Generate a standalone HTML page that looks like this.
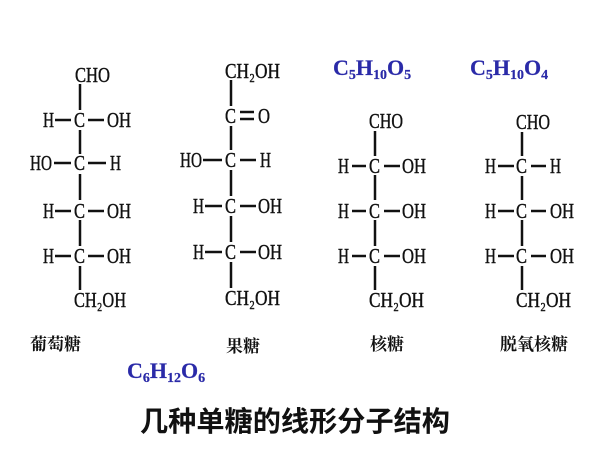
<!DOCTYPE html>
<html><head><meta charset="utf-8"><style>
html,body{margin:0;padding:0;background:#fff;width:600px;height:450px;overflow:hidden}
svg text{font-family:"Liberation Serif",serif;font-size:21px;fill:#111;stroke:#111;stroke-width:0.4}
.cn{font-family:"Liberation Serif","Noto Serif CJK SC",serif;font-size:17px;font-weight:bold;stroke-width:0}
.bl{fill:#2a2aa8;stroke:#2a2aa8;font-weight:bold;font-size:22px;stroke-width:0.2}
.sub{font-size:14px}
</style></head><body>
<svg width="600" height="450" viewBox="0 0 600 450" xmlns="http://www.w3.org/2000/svg">
<g stroke="#111" stroke-width="2.5">
<line x1="80" y1="84" x2="80" y2="110"/><line x1="80" y1="130" x2="80" y2="154"/><line x1="80" y1="174" x2="80" y2="200"/><line x1="80" y1="220" x2="80" y2="246"/><line x1="80" y1="266" x2="80" y2="290"/>
<line x1="55" y1="120" x2="71" y2="120"/><line x1="88" y1="120" x2="104" y2="120"/>
<line x1="54" y1="163" x2="71" y2="163"/><line x1="88" y1="163" x2="106" y2="163"/>
<line x1="55" y1="211" x2="71" y2="211"/><line x1="88" y1="211" x2="104" y2="211"/>
<line x1="55" y1="256" x2="71" y2="256"/><line x1="88" y1="256" x2="104" y2="256"/>
<line x1="231" y1="80" x2="231" y2="106"/><line x1="231" y1="126" x2="231" y2="150"/><line x1="231" y1="170" x2="231" y2="196"/><line x1="231" y1="216" x2="231" y2="242"/><line x1="231" y1="262" x2="231" y2="288"/>
<line x1="240" y1="112" x2="254" y2="112"/><line x1="240" y1="119" x2="254" y2="119"/>
<line x1="203" y1="160" x2="222" y2="160"/><line x1="240" y1="160" x2="256" y2="160"/>
<line x1="205" y1="206" x2="222" y2="206"/><line x1="240" y1="206" x2="256" y2="206"/>
<line x1="205" y1="252" x2="222" y2="252"/><line x1="240" y1="252" x2="256" y2="252"/>
<line x1="375" y1="131" x2="375" y2="156"/><line x1="375" y1="175" x2="375" y2="200"/><line x1="375" y1="220" x2="375" y2="246"/><line x1="375" y1="266" x2="375" y2="290"/>
<line x1="352" y1="166" x2="366" y2="166"/><line x1="384" y1="166" x2="400" y2="166"/>
<line x1="352" y1="211" x2="366" y2="211"/><line x1="384" y1="211" x2="400" y2="211"/>
<line x1="352" y1="256" x2="366" y2="256"/><line x1="384" y1="256" x2="400" y2="256"/>
<line x1="522" y1="132" x2="522" y2="156"/><line x1="522" y1="176" x2="522" y2="200"/><line x1="522" y1="220" x2="522" y2="246"/><line x1="522" y1="266" x2="522" y2="290"/>
<line x1="498" y1="166" x2="514" y2="166"/><line x1="531" y1="166" x2="546" y2="166"/>
<line x1="498" y1="211" x2="514" y2="211"/><line x1="531" y1="211" x2="546" y2="211"/>
<line x1="498" y1="256" x2="514" y2="256"/><line x1="531" y1="256" x2="546" y2="256"/>
</g>
<text x="75" y="82" textLength="35" lengthAdjust="spacingAndGlyphs">CHO</text>
<text x="43" y="127" textLength="11" lengthAdjust="spacingAndGlyphs">H</text><text x="74" y="127" textLength="11" lengthAdjust="spacingAndGlyphs">C</text><text x="107" y="127" textLength="24" lengthAdjust="spacingAndGlyphs">OH</text>
<text x="30" y="170" textLength="22" lengthAdjust="spacingAndGlyphs">HO</text><text x="74" y="170" textLength="11" lengthAdjust="spacingAndGlyphs">C</text><text x="110" y="170" textLength="11" lengthAdjust="spacingAndGlyphs">H</text>
<text x="43" y="218" textLength="11" lengthAdjust="spacingAndGlyphs">H</text><text x="74" y="218" textLength="11" lengthAdjust="spacingAndGlyphs">C</text><text x="107" y="218" textLength="24" lengthAdjust="spacingAndGlyphs">OH</text>
<text x="43" y="263" textLength="11" lengthAdjust="spacingAndGlyphs">H</text><text x="74" y="263" textLength="11" lengthAdjust="spacingAndGlyphs">C</text><text x="107" y="263" textLength="24" lengthAdjust="spacingAndGlyphs">OH</text>
<text x="74" y="307" textLength="52" lengthAdjust="spacingAndGlyphs">CH₂OH</text>
<text x="225" y="78" textLength="55" lengthAdjust="spacingAndGlyphs">CH₂OH</text>
<text x="225" y="123" textLength="11" lengthAdjust="spacingAndGlyphs">C</text><text x="258" y="123" textLength="12" lengthAdjust="spacingAndGlyphs">O</text>
<text x="180" y="167" textLength="22" lengthAdjust="spacingAndGlyphs">HO</text><text x="225" y="167" textLength="11" lengthAdjust="spacingAndGlyphs">C</text><text x="260" y="167" textLength="11" lengthAdjust="spacingAndGlyphs">H</text>
<text x="193" y="213" textLength="11" lengthAdjust="spacingAndGlyphs">H</text><text x="225" y="213" textLength="11" lengthAdjust="spacingAndGlyphs">C</text><text x="258" y="213" textLength="24" lengthAdjust="spacingAndGlyphs">OH</text>
<text x="193" y="259" textLength="11" lengthAdjust="spacingAndGlyphs">H</text><text x="225" y="259" textLength="11" lengthAdjust="spacingAndGlyphs">C</text><text x="258" y="259" textLength="24" lengthAdjust="spacingAndGlyphs">OH</text>
<text x="225" y="305" textLength="55" lengthAdjust="spacingAndGlyphs">CH₂OH</text>
<text x="369" y="128" textLength="34" lengthAdjust="spacingAndGlyphs">CHO</text>
<text x="338" y="173" textLength="11" lengthAdjust="spacingAndGlyphs">H</text><text x="369" y="173" textLength="11" lengthAdjust="spacingAndGlyphs">C</text><text x="402" y="173" textLength="24" lengthAdjust="spacingAndGlyphs">OH</text>
<text x="338" y="218" textLength="11" lengthAdjust="spacingAndGlyphs">H</text><text x="369" y="218" textLength="11" lengthAdjust="spacingAndGlyphs">C</text><text x="402" y="218" textLength="24" lengthAdjust="spacingAndGlyphs">OH</text>
<text x="338" y="263" textLength="11" lengthAdjust="spacingAndGlyphs">H</text><text x="369" y="263" textLength="11" lengthAdjust="spacingAndGlyphs">C</text><text x="402" y="263" textLength="24" lengthAdjust="spacingAndGlyphs">OH</text>
<text x="369" y="307" textLength="55" lengthAdjust="spacingAndGlyphs">CH₂OH</text>
<text x="516" y="129" textLength="34" lengthAdjust="spacingAndGlyphs">CHO</text>
<text x="485" y="173" textLength="11" lengthAdjust="spacingAndGlyphs">H</text><text x="516" y="173" textLength="11" lengthAdjust="spacingAndGlyphs">C</text><text x="550" y="173" textLength="11" lengthAdjust="spacingAndGlyphs">H</text>
<text x="485" y="218" textLength="11" lengthAdjust="spacingAndGlyphs">H</text><text x="516" y="218" textLength="11" lengthAdjust="spacingAndGlyphs">C</text><text x="550" y="218" textLength="24" lengthAdjust="spacingAndGlyphs">OH</text>
<text x="485" y="263" textLength="11" lengthAdjust="spacingAndGlyphs">H</text><text x="516" y="263" textLength="11" lengthAdjust="spacingAndGlyphs">C</text><text x="550" y="263" textLength="24" lengthAdjust="spacingAndGlyphs">OH</text>
<text x="516" y="307" textLength="55" lengthAdjust="spacingAndGlyphs">CH₂OH</text>
<text class="cn" x="30" y="350">葡萄糖</text>
<text class="cn" x="226" y="352">果糖</text>
<text class="cn" x="370" y="350">核糖</text>
<text class="cn" x="500" y="350">脱氧核糖</text>
<text class="bl" x="127" y="378">C<tspan class="sub" dy="4">6</tspan><tspan dy="-4">H</tspan><tspan class="sub" dy="4">12</tspan><tspan dy="-4">O</tspan><tspan class="sub" dy="4">6</tspan></text>
<text class="bl" x="333" y="75">C<tspan class="sub" dy="4">5</tspan><tspan dy="-4">H</tspan><tspan class="sub" dy="4">10</tspan><tspan dy="-4">O</tspan><tspan class="sub" dy="4">5</tspan></text>
<text class="bl" x="470" y="75">C<tspan class="sub" dy="4">5</tspan><tspan dy="-4">H</tspan><tspan class="sub" dy="4">10</tspan><tspan dy="-4">O</tspan><tspan class="sub" dy="4">4</tspan></text>
<text x="140" y="431" textLength="310" lengthAdjust="spacingAndGlyphs" style="font-family:'Liberation Sans','Noto Sans CJK SC',sans-serif;font-weight:bold;font-size:28px;stroke-width:0">几种单糖的线形分子结构</text>
</svg>
</body></html>
